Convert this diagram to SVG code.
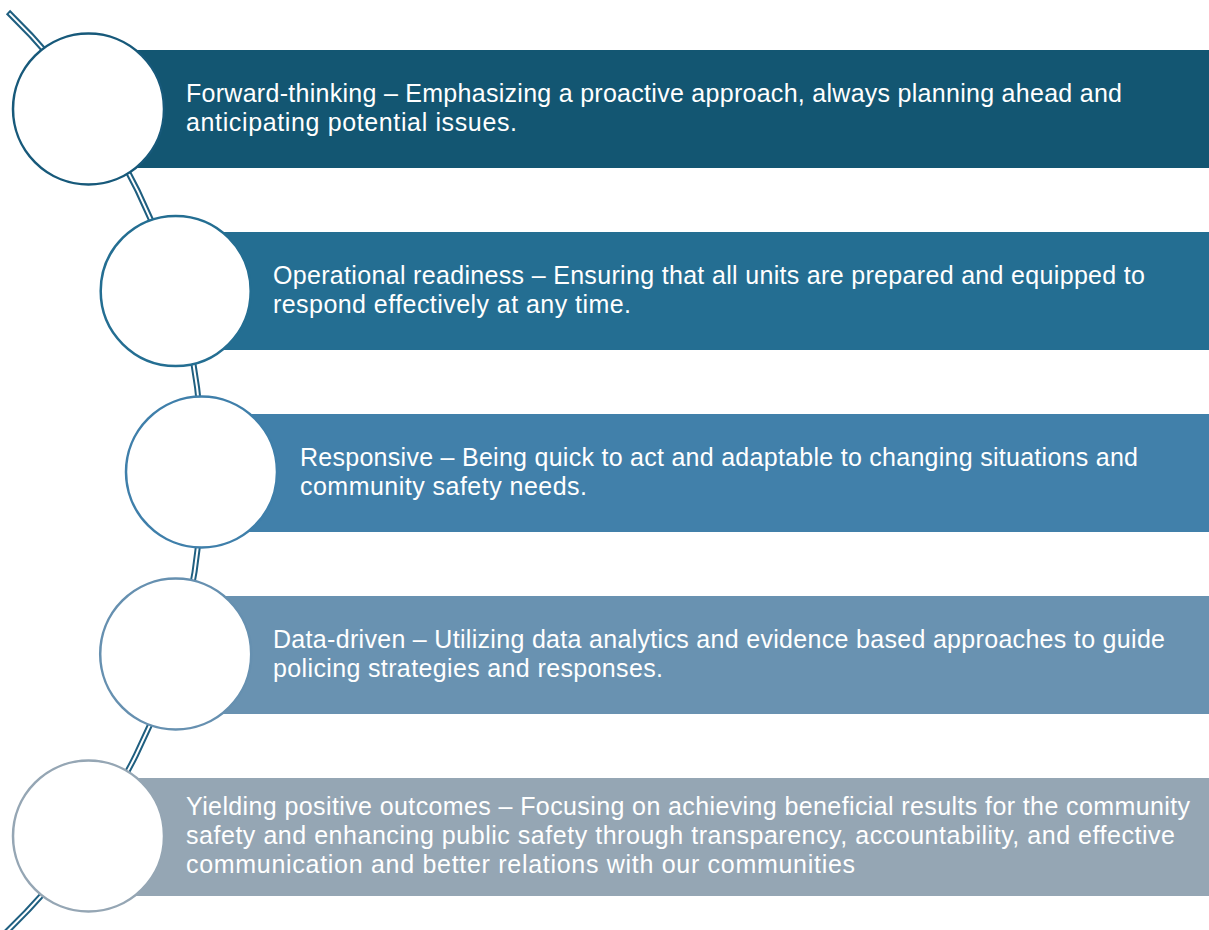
<svg xmlns="http://www.w3.org/2000/svg" width="1209" height="930" viewBox="0 0 1209 930">
<style>
.t{font-family:"Liberation Sans",Arial,sans-serif;font-size:25px;fill:#ffffff}
.c{fill:#ffffff;stroke-width:2.5}
</style>
<rect width="1209" height="930" fill="#ffffff"/>
<g id="connectors">
<path d="M 8,12 A 639.5 639.5 0 0 1 -17.7,954" fill="none" stroke="#1F5F80" stroke-width="6"/>
<path d="M 9.4,13.4 A 639.5 639.5 0 0 1 -17.7,954" fill="none" stroke="#ffffff" stroke-width="2"/>
</g>
<g id="node1">
<rect x="89" y="50" width="1120" height="118" fill="#135672"/>
<circle class="c" cx="88.5" cy="109" r="75.5" stroke="#17597A"/>
<text class="t" x="186" y="102" textLength="936">Forward-thinking – Emphasizing a proactive approach, always planning ahead and</text>
<text class="t" x="186" y="131" textLength="331">anticipating potential issues.</text>
</g>
<g id="node2">
<rect x="176" y="232" width="1033" height="118" fill="#246E92"/>
<circle class="c" cx="175.7" cy="291" r="75" stroke="#246E92"/>
<text class="t" x="273" y="284" textLength="872">Operational readiness – Ensuring that all units are prepared and equipped to</text>
<text class="t" x="273" y="313" textLength="358">respond effectively at any time.</text>
</g>
<g id="node3">
<rect x="202" y="414" width="1007" height="118" fill="#4180AA"/>
<circle class="c" cx="201.5" cy="472" r="75.5" stroke="#3F7FAA"/>
<text class="t" x="300" y="466" textLength="838">Responsive – Being quick to act and adaptable to changing situations and</text>
<text class="t" x="300" y="495" textLength="287">community safety needs.</text>
</g>
<g id="node4">
<rect x="176" y="596" width="1033" height="118" fill="#6992B1"/>
<circle class="c" cx="175.7" cy="654" r="75.5" stroke="#6690B0"/>
<text class="t" x="273" y="648" textLength="892">Data-driven – Utilizing data analytics and evidence based approaches to guide</text>
<text class="t" x="273" y="677" textLength="390">policing strategies and responses.</text>
</g>
<g id="node5">
<rect x="89" y="778" width="1120" height="118" fill="#95A6B4"/>
<circle class="c" cx="88.5" cy="836" r="75.5" stroke="#95A6B4"/>
<text class="t" x="186" y="815" textLength="1004">Yielding positive outcomes – Focusing on achieving beneficial results for the community</text>
<text class="t" x="186" y="844" textLength="989">safety and enhancing public safety through transparency, accountability, and effective</text>
<text class="t" x="186" y="873" textLength="669">communication and better relations with our communities</text>
</g>
</svg>
